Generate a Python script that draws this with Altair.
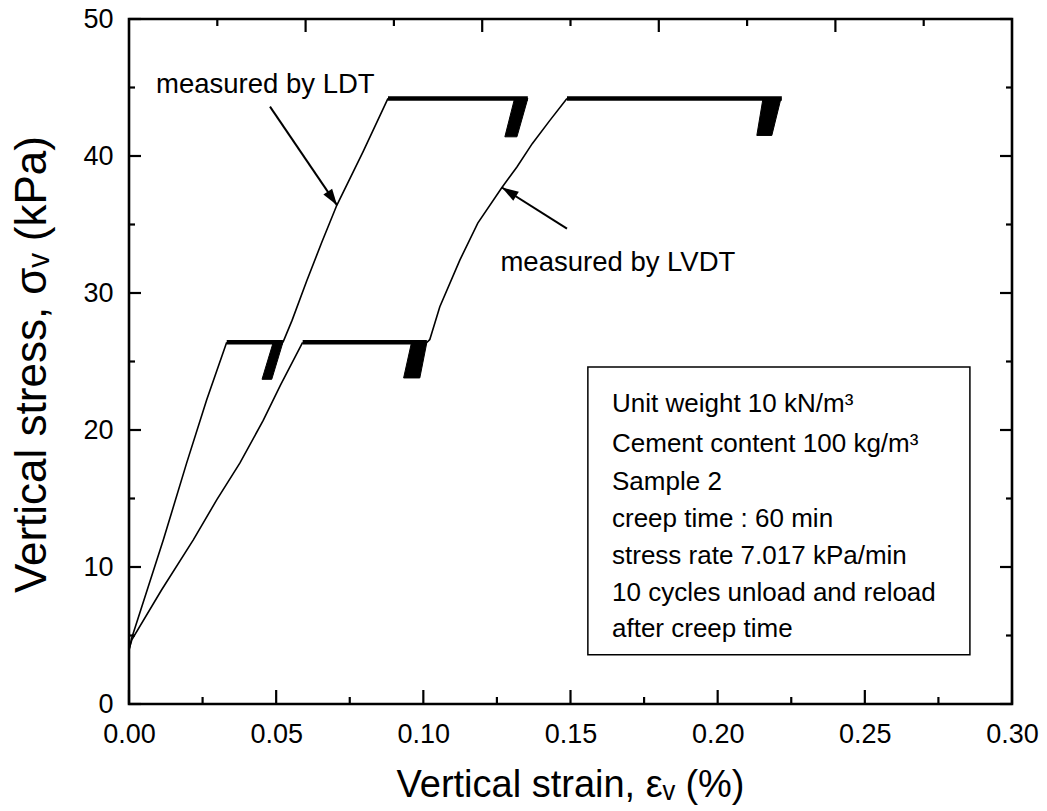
import altair as alt
import pandas as pd

FONT = "Liberation Sans"
W, H = 883, 685

# ---- measured curves: vertical strain (%) vs vertical stress (kPa) ----
# LDT (local deformation transducer)
ldt_load1_x = [0.0, 0.0009, 0.0117, 0.0196, 0.0264, 0.0332]
ldt_load1_y = [3.9, 4.8, 12.0, 17.6, 22.2, 26.4]
ldt_load2_x = [0.0523, 0.0554, 0.0604, 0.0655, 0.0706, 0.0795, 0.0880]
ldt_load2_y = [26.4, 28.0, 30.9, 33.7, 36.4, 40.3, 44.2]

# LVDT (external displacement transducer)
lvdt_load1_x = [0.0, 0.001, 0.011, 0.0219, 0.0298, 0.0377, 0.0456, 0.0515, 0.059]
lvdt_load1_y = [4.0, 4.7, 8.3, 12.0, 14.9, 17.6, 20.7, 23.3, 26.4]
lvdt_load2_x = [0.1012, 0.1022, 0.1056, 0.1124, 0.1185, 0.1267, 0.1318, 0.137, 0.143, 0.1488]
lvdt_load2_y = [26.4, 26.6, 29.0, 32.4, 35.1, 37.7, 39.2, 40.9, 42.6, 44.2]

# creep stages (constant stress), order: LDT-1, LDT-2, LVDT-1, LVDT-2
creep_x_start = [0.0332, 0.0880, 0.0590, 0.1488]
creep_x_end = [0.0523, 0.1355, 0.1012, 0.2218]
creep_stress = [26.4, 44.2, 26.4, 44.2]

# envelope of the 10 unload/reload cycles after each creep stage
cyc_low_stress = [23.7, 41.4, 23.8, 41.5]
cyc_low_x0 = [0.0452, 0.1277, 0.0933, 0.2133]
cyc_low_x1 = [0.0485, 0.1318, 0.0988, 0.2184]
cyc_high_stress = [26.4, 44.2, 26.4, 44.2]
cyc_high_x0 = [0.0490, 0.1310, 0.0960, 0.2154]
cyc_high_x1 = [0.0523, 0.1355, 0.1012, 0.2215]

# axis ticks
x_major = [0.0, 0.05, 0.10, 0.15, 0.20, 0.25, 0.30]
x_minor = [0.025, 0.075, 0.125, 0.175, 0.225, 0.275]
top_major = [0.06, 0.12, 0.18, 0.24]
top_minor = [0.03, 0.09, 0.15, 0.21, 0.27]
y_major = [0, 10, 20, 30, 40, 50]
y_minor = [5, 15, 25, 35, 45]

# annotations
ann_text = ["measured by LDT", "measured by LVDT"]
ann_x = [0.0092, 0.1262]
ann_y = [44.6, 31.6]
arrow_x_tail = [0.0479, 0.1488]
arrow_y_tail = [43.6, 34.7]
arrow_x_tip = [0.0707, 0.1267]
arrow_y_tip = [36.4, 37.7]
arrow_angle = [145.7, 301.6]

# info box
box_x = [0.1559]
box_x2 = [0.2857]
box_y = [3.6]
box_y2 = [24.6]
info_lines = [
    "Unit weight 10 kN/m³",
    "Cement content 100 kg/m³",
    "Sample 2",
    "creep time : 60 min",
    "stress rate 7.017 kPa/min",
    "10 cycles unload and reload",
    "after creep time",
]
info_x = 0.1641
info_y = [21.3, 18.4, 15.6, 12.9, 10.2, 7.5, 4.9]

xs = alt.Scale(domain=[0, 0.30], nice=False, zero=False)
ys = alt.Scale(domain=[0, 50], nice=False, zero=False)

# ---- tables ----
rows = []
for name, xv, yv in [
    ("ldt1", ldt_load1_x, ldt_load1_y),
    ("ldt2", ldt_load2_x, ldt_load2_y),
    ("lvdt1", lvdt_load1_x, lvdt_load1_y),
    ("lvdt2", lvdt_load2_x, lvdt_load2_y),
]:
    for i, (a, b) in enumerate(zip(xv, yv)):
        rows.append({"seg": name, "i": i, "x": a, "y": b})
curves = pd.DataFrame(rows)

creep = pd.DataFrame({"x": creep_x_start, "x2": creep_x_end, "y": creep_stress})

cyc_rows = []
for k in range(len(cyc_low_stress)):
    cyc_rows.append({"blk": k, "y": cyc_low_stress[k], "xa": cyc_low_x0[k], "xb": cyc_low_x1[k]})
    cyc_rows.append({"blk": k, "y": cyc_high_stress[k], "xa": cyc_high_x0[k], "xb": cyc_high_x1[k]})
cycles = pd.DataFrame(cyc_rows)

# ---- axes (labels and titles only; ticks are drawn inward below) ----
x_axis = alt.Axis(
    values=x_major, format=".2f", ticks=False, tickSize=0, domain=False, grid=False,
    labelFlush=False, labelOverlap=False,
    labelFont=FONT, labelFontSize=27, labelColor="black", labelPadding=17,
    title="Vertical strain, εᵥ (%)", titleFont=FONT, titleFontSize=38,
    titleFontWeight="normal", titleColor="black", titleX=441, titleY=92,
    titleAlign="center", titleBaseline="alphabetic",
)
y_axis = alt.Axis(
    values=y_major, format="d", ticks=False, tickSize=0, domain=False, grid=False,
    labelFlush=False, labelOverlap=False,
    labelFont=FONT, labelFontSize=27, labelColor="black", labelPadding=16,
    title="Vertical stress, σᵥ (kPa)", titleFont=FONT, titleFontSize=44,
    titleFontWeight="normal", titleColor="black", titleX=-84, titleY=345,
    titleAlign="center", titleBaseline="alphabetic", titleAngle=270,
)

base_axes = alt.Chart(pd.DataFrame({"x": [0.0], "y": [0.0]})).mark_point(opacity=0).encode(
    x=alt.X("x:Q", scale=xs, axis=x_axis),
    y=alt.Y("y:Q", scale=ys, axis=y_axis),
)

lines = alt.Chart(curves).mark_line(color="black", strokeWidth=1.6).encode(
    x=alt.X("x:Q", scale=xs), y=alt.Y("y:Q", scale=ys), detail="seg:N", order="i:Q"
)

creep_rules = alt.Chart(creep).mark_rule(color="black", strokeWidth=4.6).encode(
    x=alt.X("x:Q", scale=xs), x2="x2:Q", y=alt.Y("y:Q", scale=ys)
)

cycle_blocks = alt.Chart(cycles).mark_area(
    orient="horizontal", color="black", stroke="black", strokeWidth=1
).encode(
    y=alt.Y("y:Q", scale=ys), x=alt.X("xa:Q", scale=xs), x2="xb:Q", detail="blk:N"
)

# inward tick marks on all four sides
def ticks(values, side, length):
    df = pd.DataFrame({"v": values})
    c = alt.Chart(df).mark_rule(color="black", strokeWidth=2.2)
    if side == "bottom":
        return c.encode(x=alt.X("v:Q", scale=xs), y=alt.value(H), y2=alt.value(H - length))
    if side == "top":
        return c.encode(x=alt.X("v:Q", scale=xs), y=alt.value(0), y2=alt.value(length))
    if side == "left":
        return c.encode(y=alt.Y("v:Q", scale=ys), x=alt.value(0), x2=alt.value(length))
    return c.encode(y=alt.Y("v:Q", scale=ys), x=alt.value(W), x2=alt.value(W - length))

tick_layers = [
    ticks(x_major, "bottom", 14), ticks(x_minor, "bottom", 7),
    ticks(top_major, "top", 13), ticks(top_minor, "top", 7),
    ticks(y_major, "left", 12), ticks(y_minor, "left", 6),
    ticks(y_major, "right", 12), ticks(y_minor, "right", 6),
]

ann_df = pd.DataFrame({"t": ann_text, "x": ann_x, "y": ann_y})
ann = alt.Chart(ann_df).mark_text(
    font=FONT, fontSize=27.5, align="left", baseline="alphabetic", color="black"
).encode(x=alt.X("x:Q", scale=xs), y=alt.Y("y:Q", scale=ys), text="t:N")

arr_df = pd.DataFrame({
    "x": arrow_x_tail, "y": arrow_y_tail, "x2": arrow_x_tip, "y2": arrow_y_tip,
    "a": arrow_angle,
})
arrow_shafts = alt.Chart(arr_df).mark_rule(color="black", strokeWidth=2).encode(
    x=alt.X("x:Q", scale=xs), y=alt.Y("y:Q", scale=ys), x2="x2:Q", y2="y2:Q"
)
arrow_heads = alt.Chart(arr_df).mark_point(
    shape="M0,0 L0.32,1 L-0.32,1 Z", filled=True, color="black", opacity=1, size=1100
).encode(
    x=alt.X("x2:Q", scale=xs), y=alt.Y("y2:Q", scale=ys), angle=alt.Angle("a:Q", scale=None)
)

box_df = pd.DataFrame({"x": box_x, "x2": box_x2, "y": box_y, "y2": box_y2})
box = alt.Chart(box_df).mark_rect(
    fillOpacity=0, stroke="black", strokeWidth=1.5
).encode(x=alt.X("x:Q", scale=xs), x2="x2:Q", y=alt.Y("y:Q", scale=ys), y2="y2:Q")

info_df = pd.DataFrame({"t": info_lines, "y": info_y, "x": [info_x] * len(info_lines)})
info = alt.Chart(info_df).mark_text(
    font=FONT, fontSize=26, align="left", baseline="alphabetic", color="black"
).encode(x=alt.X("x:Q", scale=xs), y=alt.Y("y:Q", scale=ys), text="t:N")

chart = alt.layer(
    base_axes, box, info, lines, creep_rules, cycle_blocks,
    arrow_shafts, arrow_heads, ann, *tick_layers,
).properties(
    width=W, height=H,
    autosize=alt.AutoSizeParams(type="none"),
    padding={"left": 129, "top": 19, "right": 35, "bottom": 107},
    background="white",
).configure_view(
    stroke="black", strokeWidth=2.6
)

chart.save("out.html", embed_options={"renderer": "svg", "actions": False})
